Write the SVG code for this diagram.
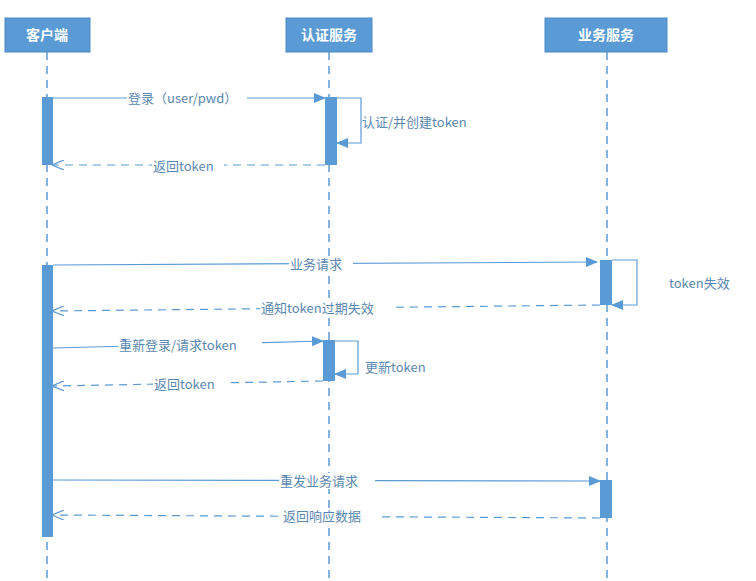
<svg xmlns="http://www.w3.org/2000/svg" width="756" height="581" viewBox="0 0 756 581">
<defs>
<style>
.hd{fill:#5b9bd5;stroke:#4a8ac4;}
.ht{fill:#fff;font-family:"Noto Sans CJK SC",sans-serif;font-size:14px;font-weight:bold;text-anchor:middle;}
.ll{stroke:#5b9bd5;stroke-width:1.5;stroke-dasharray:8,6;fill:none;}
.act{fill:#5b9bd5;}
.m{stroke:#5b9bd5;stroke-width:1.2;fill:none;}
.d{stroke-dasharray:8,6;}
.lb{fill:#5b88b0;font-family:"Noto Sans CJK SC",sans-serif;font-size:13px;}
.bg{fill:#fff;}
</style>
<marker id="a" markerWidth="12" markerHeight="10" refX="11" refY="5" orient="auto" markerUnits="userSpaceOnUse"><path d="M0,0 L12,5 L0,10 Z" fill="#5b9bd5"/></marker>
<marker id="o" markerWidth="12" markerHeight="10" refX="11" refY="5" orient="auto" markerUnits="userSpaceOnUse"><path d="M0,0 L12,5 L0,10" fill="none" stroke="#5b9bd5" stroke-width="1.2"/></marker>
</defs>
<rect width="756" height="581" fill="#fff"/>
<g id="client"><rect class="hd" x="5" y="18" width="85" height="34"/><text class="ht" x="47" y="40">客户端</text><line class="ll" x1="47" y1="52" x2="47" y2="581"/></g>
<g id="auth"><rect class="hd" x="286" y="18" width="86" height="34"/><text class="ht" x="329" y="40">认证服务</text><line class="ll" x1="329" y1="52" x2="329" y2="581"/></g>
<g id="biz"><rect class="hd" x="545" y="18" width="122" height="34"/><text class="ht" x="606" y="40">业务服务</text><line class="ll" x1="607" y1="52" x2="607" y2="581"/></g>
<g id="activations">
<rect class="act" x="42" y="97" width="11" height="68"/>
<rect class="act" x="325" y="97" width="12" height="68"/>
<rect class="act" x="42" y="265" width="11" height="272"/>
<rect class="act" x="600" y="260" width="12" height="45"/>
<rect class="act" x="323" y="340" width="12" height="41"/>
<rect class="act" x="600" y="480" width="12" height="38"/>
</g>
<g id="connectors">
<line class="m" x1="53" y1="98" x2="325" y2="98" marker-end="url(#a)"/>
<polyline class="m" points="337,98 361,98 361,143 337,143" marker-end="url(#a)"/>
<line class="m d" x1="325" y1="165" x2="53" y2="165" marker-end="url(#o)"/>
<line class="m" x1="53" y1="265" x2="597" y2="262" marker-end="url(#a)"/>
<polyline class="m" points="612,260 637,260 637,305 612,305" marker-end="url(#a)"/>
<line class="m d" x1="600" y1="305" x2="53" y2="311" marker-end="url(#o)"/>
<line class="m" x1="53" y1="348" x2="323" y2="341" marker-end="url(#a)"/>
<polyline class="m" points="335,341 358,341 358,374 335,374" marker-end="url(#a)"/>
<line class="m d" x1="323" y1="381" x2="53" y2="386" marker-end="url(#o)"/>
<line class="m" x1="53" y1="480" x2="600" y2="481" marker-end="url(#a)"/>
<line class="m d" x1="600" y1="518" x2="53" y2="515" marker-end="url(#o)"/>
</g>
<g id="labels">
<rect class="bg" x="127" y="90" width="120" height="16"/><text class="lb" x="128" y="103">登录（user/pwd）</text>
<rect class="bg" x="362" y="114" width="128" height="16"/><text class="lb" x="362" y="127">认证/并创建token</text>
<rect class="bg" x="152" y="158" width="72" height="16"/><text class="lb" x="153" y="171">返回token</text>
<rect class="bg" x="289" y="256" width="64" height="16"/><text class="lb" x="290" y="269">业务请求</text>
<text class="lb" x="669" y="288">token失效</text>
<rect class="bg" x="260" y="300" width="136" height="16"/><text class="lb" x="261" y="313">通知token过期失效</text>
<rect class="bg" x="118" y="337" width="144" height="16"/><text class="lb" x="119" y="350">重新登录/请求token</text>
<rect class="bg" x="364" y="359" width="74" height="16"/><text class="lb" x="365" y="372">更新token</text>
<rect class="bg" x="153" y="376" width="72" height="16"/><text class="lb" x="154" y="389">返回token</text>
<rect class="bg" x="279" y="473" width="96" height="16"/><text class="lb" x="280" y="486">重发业务请求</text>
<rect class="bg" x="282" y="508" width="96" height="16"/><text class="lb" x="283" y="521">返回响应数据</text>
</g>
</svg>
